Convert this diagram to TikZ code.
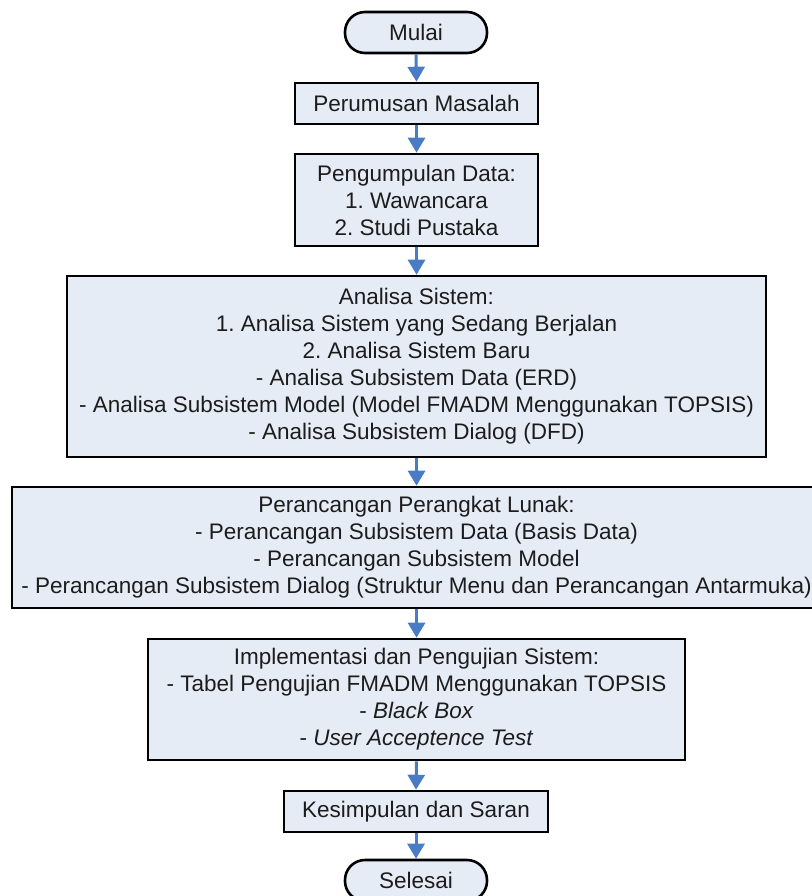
\documentclass[tikz,border=0pt]{standalone}
\usepackage{fontspec}
\setmainfont{Liberation Sans}
\frenchspacing
\usetikzlibrary{arrows.meta}
\definecolor{boxfill}{HTML}{E6ECF6}
\definecolor{flowblue}{HTML}{4A7CC6}
\definecolor{txt}{HTML}{1C1C1C}
\tikzset{
  procbox/.style={draw=black, line width=2.6pt, fill=boxfill, align=center,
    inner sep=0pt, text=txt, font=\fontsize{22.5}{27}\selectfont},
  termbox/.style={procbox, rounded corners=20pt},
  flow/.style={draw=flowblue, line width=3pt,
    -{Triangle[length=15pt,width=17pt]}}
}
\begin{document}
\begin{tikzpicture}[x=1pt,y=-1pt]
\useasboundingbox (0,0) rectangle (811,896);
\node[termbox, minimum width=142pt, minimum height=41pt] (start) at (416,32.5) {Mulai};
\node[procbox, minimum width=243pt, minimum height=41pt] (rumus) at (416.5,103.5) {Perumusan Masalah};
\node[procbox, minimum width=243pt, minimum height=92pt] (data) at (416.5,200)
  {Pengumpulan Data:\\1. Wawancara\\2. Studi Pustaka};
\node[procbox, minimum width=699pt, minimum height=181pt] (analisa) at (416.5,366.5)
  {Analisa Sistem:\\1. Analisa Sistem yang Sedang Berjalan\\2. Analisa Sistem Baru\\
   - Analisa Subsistem Data (ERD)\\
   - Analisa Subsistem Model (Model FMADM Menggunakan TOPSIS)\\
   - Analisa Subsistem Dialog (DFD)};
\node[procbox, minimum width=809pt, minimum height=121pt] (rancang) at (416.5,547.5)
  {Perancangan Perangkat Lunak:\\
   - Perancangan Subsistem Data (Basis Data)\\
   - Perancangan Subsistem Model\\
   - Perancangan Subsistem Dialog (Struktur Menu dan Perancangan Antarmuka)};
\node[procbox, minimum width=537pt, minimum height=121pt] (impl) at (416.5,699.5)
  {Implementasi dan Pengujian Sistem:\\
   - Tabel Pengujian FMADM Menggunakan TOPSIS\\
   - \textit{Black Box}\\
   - \textit{User Acceptence Test}};
\node[procbox, minimum width=264pt, minimum height=41pt] (simpul) at (416,811.5) {Kesimpulan dan Saran};
\node[termbox, minimum width=142pt, minimum height=41pt] (end) at (416,880.5) {Selesai};
\foreach \a/\b in {start/rumus, rumus/data, data/analisa, analisa/rancang,
                   rancang/impl, impl/simpul, simpul/end}
  \draw[flow] (\a.south) -- (\b.north);
\end{tikzpicture}
\end{document}
